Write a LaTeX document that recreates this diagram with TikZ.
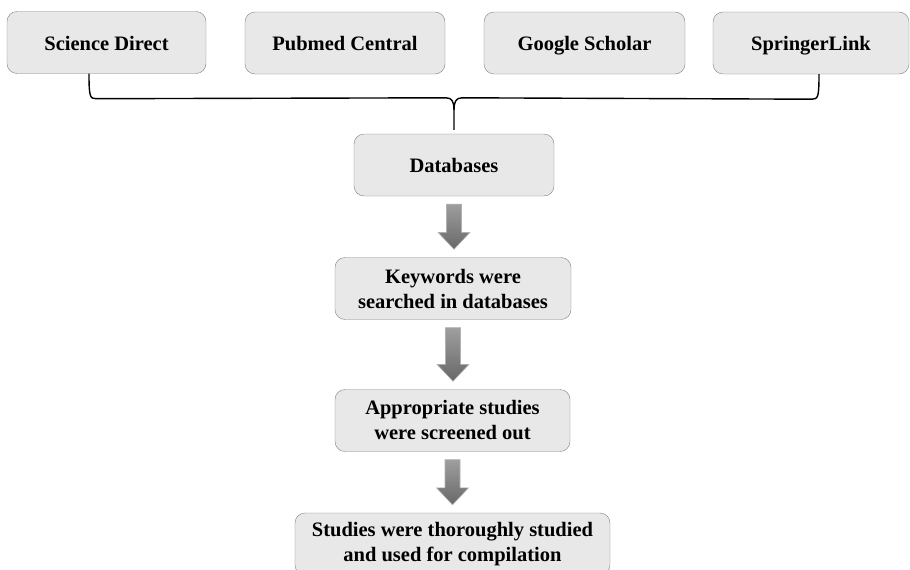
\documentclass[tikz,border=0pt]{standalone}
\usepackage{fontspec}
\setmainfont{Liberation Serif}
\usepackage{tikz}
\usetikzlibrary{positioning,calc}
\definecolor{boxFill}{RGB}{232,232,232}
\definecolor{boxLine}{RGB}{128,128,128}
\definecolor{arrowTop}{RGB}{158,158,158}
\definecolor{arrowBot}{RGB}{104,104,104}

\newcommand{\flowarrow}[2]{%
  \shadedraw[blockarrow] let \p1=(#1.south), \p2=(#2.north) in
    (\x1-7.5pt,\y1-8pt) -- (\x1+7.5pt,\y1-8pt) -- (\x1+7.5pt,\y2+25pt)
    -- (\x1+16pt,\y2+25pt) -- (\x1,\y2+8pt) -- (\x1-16pt,\y2+25pt)
    -- (\x1-7.5pt,\y2+25pt) -- cycle;}

\begin{document}
\begin{tikzpicture}[
        x=1pt, y=-1pt,
        stage/.style={draw=boxLine, fill=boxFill, rounded corners=10pt,
          minimum height=62pt, align=center, inner sep=2pt,
          font=\bfseries\fontsize{20.5}{25}\selectfont},
        oneline/.style={stage, text height=15.5pt, text depth=0.5pt},
        blockarrow/.style={draw=arrowTop!80!white, top color=arrowTop,
          bottom color=arrowBot, line width=0.6pt},
        bracket/.style={draw=black, line width=1.4pt}
      ]
        \useasboundingbox (0,0) rectangle (910,570);
        % Sources
        \node[oneline, minimum width=199pt] (sd) at (106.5,42.5) {Science Direct};
        \node[oneline, minimum width=200pt] (pc) at (345,43) {Pubmed Central};
        \node[oneline, minimum width=201pt] (gs) at (584.5,43) {Google Scholar};
        \node[oneline, minimum width=196pt] (sl) at (811,43) {SpringerLink};
        % Steps
        \node[oneline, minimum width=200pt] (db) at (454,165) {Databases};
        \node[stage, minimum width=236pt] (kw) at (453,288.5)
          {Keywords were\\searched in databases};
        \node[stage, minimum width=235pt] (ap) at (452.5,420.5)
          {Appropriate studies\\were screened out};
        \node[stage, minimum width=315pt] (st) at (452.5,544)
          {Studies were thoroughly studied\\and used for compilation};
        % Bracket
        \coordinate (bl) at ($(sd.south)+(-17.5,0)$);
        \coordinate (br) at ($(sl.south)+(8,0)$);
        \coordinate (tip) at ($(db.north)+(0,-4)$);
        \draw[bracket] (bl) .. controls ($(bl)+(0,23)$) and ($(bl)+(1,25)$)
          .. ($(bl)+(7,25)$) -- ($(tip)+(-8,-32)$)
          .. controls ($(tip)+(-2,-32)$) and ($(tip)+(0,-28)$) .. ($(tip)+(0,-20)$)
          -- (tip);
        \draw[bracket] (br) .. controls ($(br)+(0,23)$) and ($(br)+(-1,25)$)
          .. ($(br)+(-7,25)$) -- ($(tip)+(8,-32)$)
          .. controls ($(tip)+(2,-32)$) and ($(tip)+(0,-28)$) .. ($(tip)+(0,-20)$);
        % Arrows
        \flowarrow{db}{kw}
        \flowarrow{kw}{ap}
        \flowarrow{ap}{st}
      \end{tikzpicture}
\end{document}
